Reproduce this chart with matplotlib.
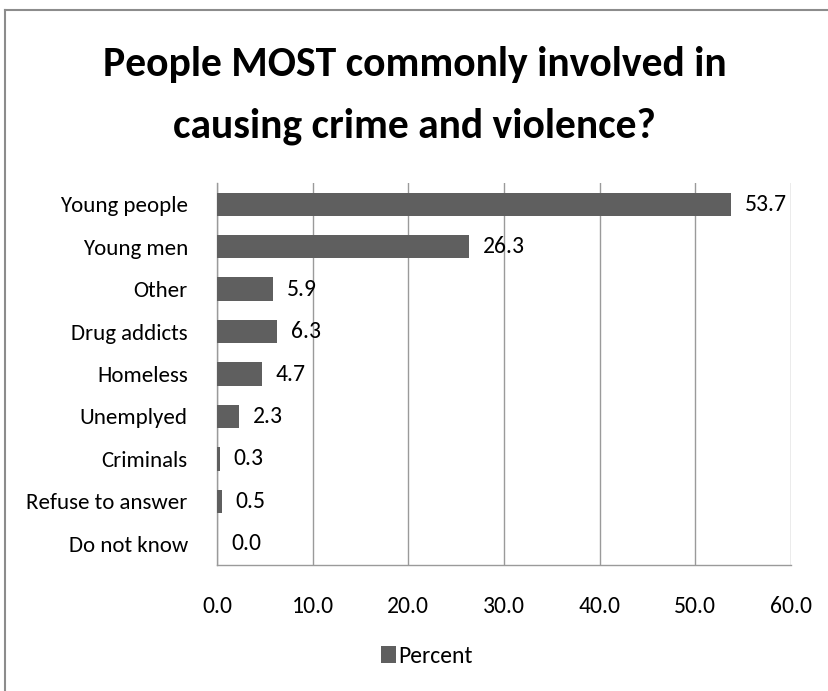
import matplotlib.pyplot as plt
from matplotlib.lines import Line2D

categories = ['Young people', 'Young men', 'Other', 'Drug addicts', 'Homeless',
              'Unemplyed', 'Criminals', 'Refuse to answer', 'Do not know']
percent = [53.7, 26.3, 5.9, 6.3, 4.7, 2.3, 0.3, 0.5, 0.0]
xticks = [0, 10, 20, 30, 40, 50, 60]

plt.rcParams['font.family'] = ['Carlito', 'DejaVu Sans']

bar_color = '#5f5f5f'
grid_color = '#9a9a9a'
border_color = '#8c8c8c'

fig = plt.figure(figsize=(8.29, 6.91), dpi=100)
# outer chart border (only top and left edges visible in the crop)
fig.add_artist(Line2D([0.0066, 0.0066], [0, 0.986], transform=fig.transFigure,
                      color=border_color, linewidth=1.5))
fig.add_artist(Line2D([0.0066, 1], [0.986, 0.986], transform=fig.transFigure,
                      color=border_color, linewidth=1.5))

ax = fig.add_axes([0.2618, 0.1823, 0.6924, 0.5529])

y = range(len(categories))
bars = ax.barh(y, percent, height=0.55, color=bar_color, label='Percent', zorder=3)
ax.set_ylim(len(categories) - 0.5, -0.5)
ax.set_xlim(0, 60)
ax.set_xticks(xticks)
ax.set_xticklabels([f'{v:.1f}' for v in xticks], fontsize=17)
ax.set_yticks(list(y))
ax.set_yticklabels(categories, fontsize=16.5)
ax.tick_params(axis='x', length=0, pad=22)
ax.tick_params(axis='y', length=0, pad=21)

ax.grid(axis='x', color=grid_color, linewidth=1, zorder=0)
for s in ['top', 'right']:
    ax.spines[s].set_visible(False)
for s in ['left', 'bottom']:
    ax.spines[s].set_color(grid_color)
    ax.spines[s].set_linewidth(1)

for b, v in zip(bars, percent):
    ax.annotate(f'{v:.1f}', (v, b.get_y() + b.get_height() / 2),
                xytext=(10, 0), textcoords='offset points',
                va='center', ha='left', fontsize=17)

fig.text(0.5, 0.907, 'People MOST commonly involved in', ha='center', va='center',
         fontsize=30, fontweight='bold')
fig.text(0.5, 0.817, 'causing crime and violence?', ha='center', va='center',
         fontsize=30, fontweight='bold')

fig.legend(handles=[bars], labels=['Percent'], loc='center', bbox_to_anchor=(0.515, 0.05),
           frameon=False, fontsize=17, handlelength=0.6, handleheight=0.7,
           handletextpad=0.1)

fig.savefig('out.png', dpi=100)
